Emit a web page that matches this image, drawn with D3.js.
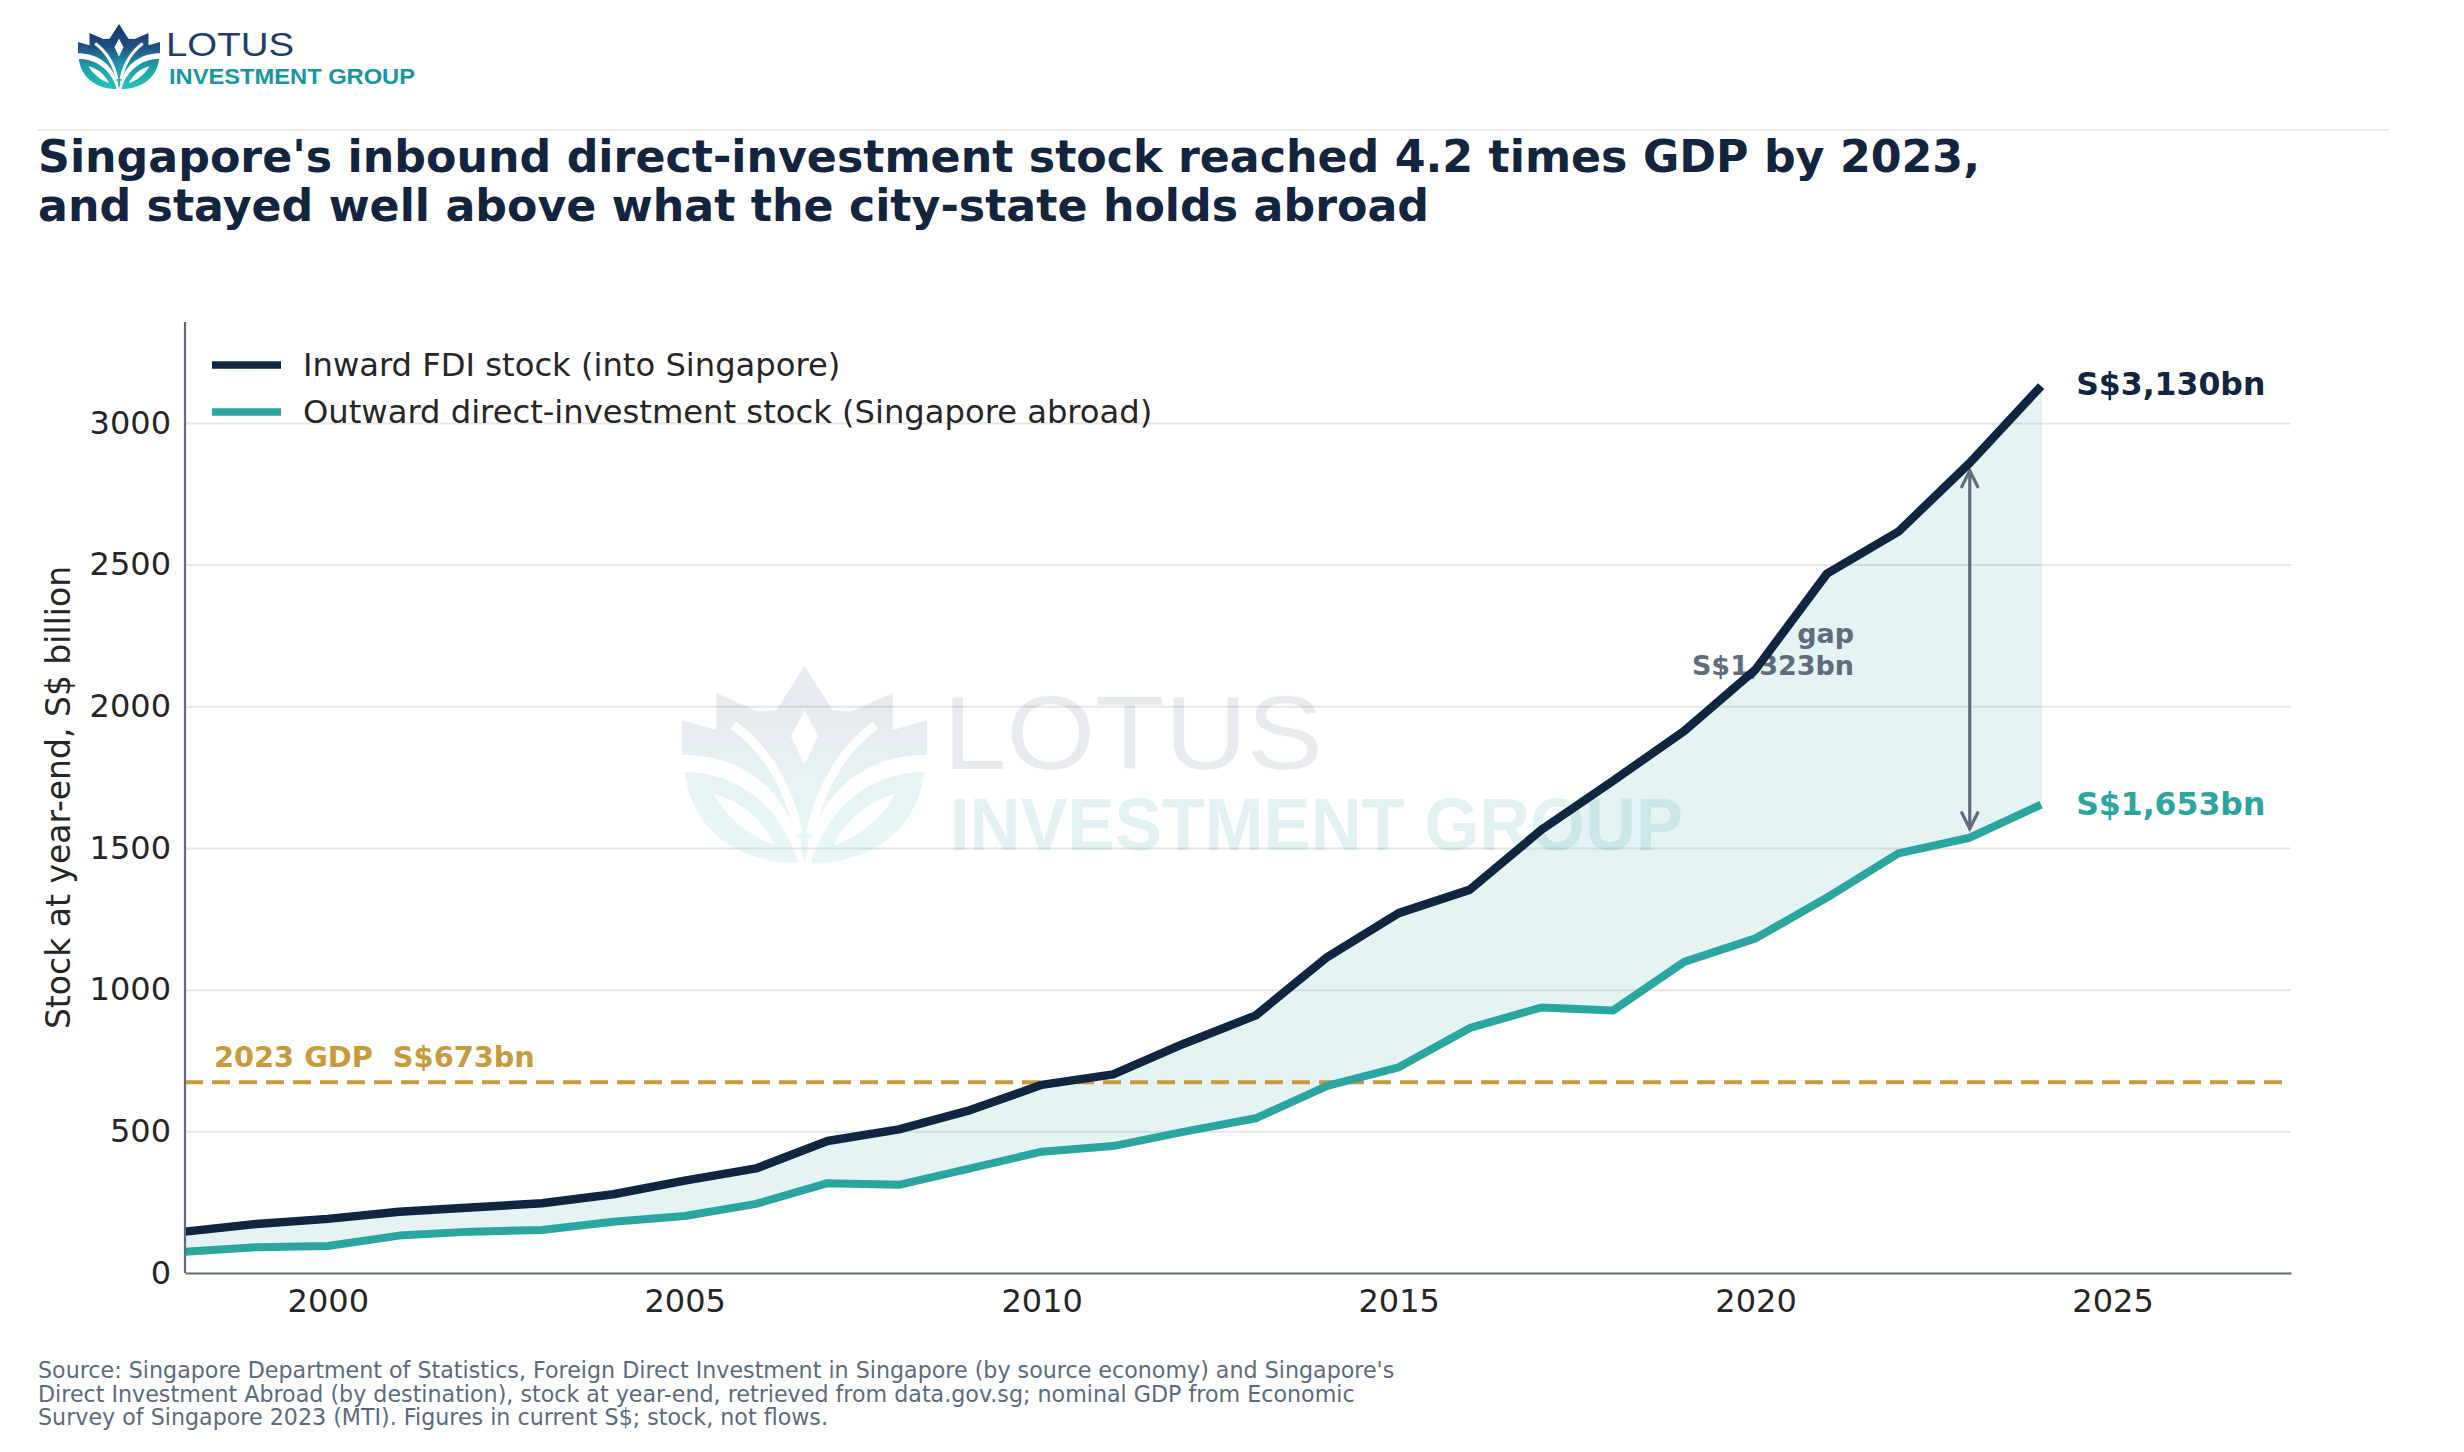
<!DOCTYPE html>
<html><head><meta charset="utf-8">
<script src="https://cdn.jsdelivr.net/npm/d3@7"></script>
<style>
html,body{margin:0;padding:0;background:#fff;}
svg{display:block;font-family:"DejaVu Sans",sans-serif;}
</style></head><body>
<svg id="chart" width="2464" height="1452"></svg>
<script>
// ---------------- data ----------------
const years   = [1998,1999,2000,2001,2002,2003,2004,2005,2006,2007,2008,2009,2010,2011,2012,2013,2014,2015,2016,2017,2018,2019,2020,2021,2022,2023,2024];
const inward  = [146,173,191,216,231,246,278,326,369,466,507,575,664,701,810,909,1115,1270,1353,1564,1736,1913,2130,2468,2616,2859,3130];
const outward = [75,91,95,132,146,152,181,201,244,317,311,369,428,448,499,546,660,726,865,937,926,1098,1181,1325,1481,1536,1653];
const gdp2023 = 673;
const gapYear = 2023;
const yTicks = [0,500,1000,1500,2000,2500,3000];
const xTicks = [2000,2005,2010,2015,2020,2025];
const seriesNames = ["Inward FDI stock (into Singapore)","Outward direct-investment stock (Singapore abroad)"];
const titleLines = ["Singapore's inbound direct-investment stock reached 4.2 times GDP by 2023,",
                    "and stayed well above what the city-state holds abroad"];
const sourceLines = ["Source: Singapore Department of Statistics, Foreign Direct Investment in Singapore (by source economy) and Singapore's",
                     "Direct Investment Abroad (by destination), stock at year-end, retrieved from data.gov.sg; nominal GDP from Economic",
                     "Survey of Singapore 2023 (MTI). Figures in current S$; stock, not flows."];
const yLabel = "Stock at year-end, S$ billion";

// ---------------- setup ----------------
const C = {navy:"#0f2540", teal:"#2ba59f", gold:"#c99a3b", slate:"#5e6c7c", grid:"#e6e6e6", text:"#262626"};
const svg = d3.select("#chart");
const M = {left:185, right:2291, top:322, bottom:1273};
const x = d3.scaleLinear().domain([1998, 2027.5]).range([M.left, M.right]);
const y = d3.scaleLinear().domain([0, 3356]).range([M.bottom, M.top]);
const rows = years.map((yr,i)=>({year:yr, inw:inward[i], out:outward[i]}));
const fmt = d3.format(",");

const defs = svg.append("defs");
const grad = defs.append("linearGradient").attr("id","lotusGrad").attr("x1",0).attr("y1",0).attr("x2",0).attr("y2",1);
[[0,"#1b3466"],[0.35,"#1f4f82"],[0.62,"#1c98a6"],[1,"#22c3bc"]].forEach(s=>grad.append("stop").attr("offset",s[0]).attr("stop-color",s[1]));

// lotus mask in 100x80 units
const mask = defs.append("mask").attr("id","lotusMask").attr("maskUnits","userSpaceOnUse")
  .attr("x",-5).attr("y",-5).attr("width",110).attr("height",90);
mask.append("path").attr("fill","#fff")
  .attr("d","M0,22 L14,26 L14,11 L31,18.5 L38.5,18 L50,0 L61.5,18 L69,18.5 L86,11 L86,26 L100,22 L100,36 C80,36 60,46 53,70 L50,80 L47,70 C40,46 20,36 0,36 Z");
mask.append("path").attr("fill","#fff").attr("d","M1,43 C22,43 40,56 47.5,80 C22,80 4,66 1,43 Z");
mask.append("path").attr("fill","#fff").attr("d","M99,43 C78,43 60,56 52.5,80 C78,80 96,66 99,43 Z");
mask.append("path").attr("fill","none").attr("stroke","#000").attr("stroke-width",3.6).attr("d","M21,24 C32,32 43,46 47.6,68");
mask.append("path").attr("fill","none").attr("stroke","#000").attr("stroke-width",3.6).attr("d","M79,24 C68,32 57,46 52.4,68");
mask.append("path").attr("fill","#000").attr("d","M50,18 L55.5,28.5 L50,40 L44.5,28.5 Z");
mask.append("path").attr("fill","#000").attr("d","M13,52 C24,55 33,62 38,73 C28,69 18,62 13,52 Z");
mask.append("path").attr("fill","#000").attr("d","M87,52 C76,55 67,62 62,73 C72,69 82,62 87,52 Z");
mask.append("path").attr("fill","none").attr("stroke","#000").attr("stroke-width",2.2).attr("d","M47.3,70 L48.2,81 M52.7,70 L51.8,81");

function lotus(parent, x0, y0, w, h, opacity){
  const g = parent.append("g").attr("transform",`translate(${x0},${y0}) scale(${w/100},${h/80})`).attr("opacity",opacity);
  g.append("rect").attr("x",0).attr("y",0).attr("width",100).attr("height",80)
    .attr("fill","url(#lotusGrad)").attr("mask","url(#lotusMask)");
  return g;
}

// ---------------- header ----------------
lotus(svg, 78, 24, 82, 65, 1);
svg.append("text").attr("x",166).attr("y",56).attr("font-family","Liberation Sans, Arial, sans-serif")
  .attr("font-size",34).attr("fill","#1f3e6e").attr("textLength",128).attr("lengthAdjust","spacingAndGlyphs").text("LOTUS");
svg.append("text").attr("x",169).attr("y",84).attr("font-family","Liberation Sans, Arial, sans-serif")
  .attr("font-weight","bold").attr("font-size",22.5).attr("fill","#1596a0").attr("textLength",246).attr("lengthAdjust","spacingAndGlyphs").text("INVESTMENT GROUP");
svg.append("line").attr("x1",38).attr("x2",2389).attr("y1",130).attr("y2",130).attr("stroke","#e2e2e2").attr("stroke-width",1.5);

svg.append("g").selectAll("text").data(titleLines).join("text")
  .attr("x",38).attr("y",(d,i)=>172+i*49).attr("font-size",44.3).attr("font-weight","bold").attr("fill","#13243f").text(d=>d);

// ---------------- grid ----------------
svg.append("g").attr("transform",`translate(${M.left},0)`)
  .call(d3.axisLeft(y).tickValues(yTicks.filter(v=>v>0)).tickSize(-(M.right-M.left)).tickFormat(""))
  .call(g=>g.select(".domain").remove())
  .call(g=>g.selectAll("line").attr("stroke",C.grid).attr("stroke-width",2));

// ---------------- fill between ----------------
const area = d3.area().x(d=>x(d.year)).y0(d=>y(d.out)).y1(d=>y(d.inw));
svg.append("path").datum(rows).attr("d",area).attr("fill",C.teal).attr("fill-opacity",0.13)
  .attr("stroke",C.teal).attr("stroke-opacity",0.08).attr("stroke-width",2);

// ---------------- watermark ----------------
const wm = svg.append("g");
lotus(wm, 682, 666, 245, 197, 0.1);
wm.append("text").attr("x",943).attr("y",769).attr("font-family","Liberation Sans, Arial, sans-serif")
  .attr("font-size",103).attr("fill","#1f3e6e").attr("opacity",0.1).attr("textLength",380).attr("lengthAdjust","spacingAndGlyphs").text("LOTUS");
wm.append("text").attr("x",950).attr("y",850).attr("font-family","Liberation Sans, Arial, sans-serif")
  .attr("font-weight","bold").attr("font-size",75).attr("fill","#1a9aa0").attr("opacity",0.12).attr("textLength",733).attr("lengthAdjust","spacingAndGlyphs").text("INVESTMENT GROUP");

// ---------------- GDP line ----------------
svg.append("line").attr("x1",M.left).attr("x2",M.right).attr("y1",y(gdp2023)).attr("y2",y(gdp2023))
  .attr("stroke",C.gold).attr("stroke-width",4).attr("stroke-dasharray","18,9");
svg.append("text").attr("x",214).attr("y",y(gdp2023)-15).attr("font-size",28.8).attr("font-weight","bold")
  .attr("fill",C.gold).attr("xml:space","preserve").text("2023 GDP  S$" + gdp2023 + "bn");

// ---------------- gap annotation ----------------
const gi = years.indexOf(gapYear);
const gap = inward[gi]-outward[gi];
const gapMidY = y((inward[gi]+outward[gi])/2);
const gx = x(gapYear-1.62);
const gapText = svg.append("text").attr("text-anchor","end").attr("font-size",27)
  .attr("font-weight","bold").attr("fill",C.slate);
gapText.append("tspan").attr("x",gx).attr("y",gapMidY-17).attr("dy","0.35em").text("gap");
gapText.append("tspan").attr("x",gx).attr("y",gapMidY+15).attr("dy","0.35em").text(`S$${fmt(gap)}bn`);

const ax = x(gapYear), aTop = y(inward[gi])+8, aBot = y(outward[gi])-9;
const arrow = svg.append("g").attr("stroke",C.slate).attr("stroke-width",3.2).attr("fill","none").attr("stroke-linecap","round");
arrow.append("line").attr("x1",ax).attr("x2",ax).attr("y1",aTop).attr("y2",aBot);
arrow.append("path").attr("d",`M${ax-8},${aTop+16} L${ax},${aTop} L${ax+8},${aTop+16}`);
arrow.append("path").attr("d",`M${ax-8},${aBot-16} L${ax},${aBot} L${ax+8},${aBot-16}`);

// ---------------- lines ----------------
const lineIn = d3.line().x(d=>x(d.year)).y(d=>y(d.inw));
const lineOut = d3.line().x(d=>x(d.year)).y(d=>y(d.out));
svg.append("path").datum(rows).attr("d",lineOut).attr("fill","none").attr("stroke",C.teal).attr("stroke-width",8).attr("stroke-linejoin","round");
svg.append("path").datum(rows).attr("d",lineIn).attr("fill","none").attr("stroke",C.navy).attr("stroke-width",8.5).attr("stroke-linejoin","round");

// end labels
const last = rows[rows.length-1];
svg.append("text").attr("x",x(last.year)+35).attr("y",y(last.inw)-2).attr("dy","0.35em").attr("font-size",31.5)
  .attr("font-weight","bold").attr("fill",C.navy).text(`S$${fmt(last.inw)}bn`);
svg.append("text").attr("x",x(last.year)+35).attr("y",y(last.out)-1).attr("dy","0.35em").attr("font-size",31.5)
  .attr("font-weight","bold").attr("fill",C.teal).text(`S$${fmt(last.out)}bn`);

// ---------------- axes ----------------
const yAxis = svg.append("g").attr("transform",`translate(${M.left},0)`)
  .call(d3.axisLeft(y).tickValues(yTicks).tickSize(0).tickSizeOuter(0).tickPadding(14).tickFormat(d3.format("d")));
const xAxis = svg.append("g").attr("transform",`translate(0,${M.bottom})`)
  .call(d3.axisBottom(x).tickValues(xTicks).tickSize(0).tickSizeOuter(0).tickPadding(16).tickFormat(d3.format("d")));
[yAxis,xAxis].forEach(a=>{
  a.select(".domain").attr("stroke",C.slate).attr("stroke-width",2.2);
  a.selectAll("text").attr("font-size",32).attr("fill",C.text).attr("font-family","DejaVu Sans, sans-serif");
});
yAxis.select(".domain").attr("d",`M0,${M.top}V${M.bottom}`);

svg.append("text").attr("transform",`translate(58,${(M.top+M.bottom)/2}) rotate(-90)`).attr("text-anchor","middle")
  .attr("dy","0.35em").attr("font-size",33).attr("fill",C.text).text(yLabel);

// ---------------- legend ----------------
const legColors = [C.navy, C.teal];
const leg = svg.append("g").selectAll("g").data(seriesNames).join("g")
  .attr("transform",(d,i)=>`translate(212,${365+i*47})`);
leg.append("line").attr("x1",0).attr("x2",69).attr("stroke",(d,i)=>legColors[i]).attr("stroke-width",7.5);
leg.append("text").attr("x",91).attr("dy","0.35em").attr("font-size",32.2).attr("fill",C.text).text(d=>d);

// ---------------- source ----------------
svg.append("g").selectAll("text").data(sourceLines).join("text")
  .attr("x",38).attr("y",(d,i)=>1378+i*23.5).attr("font-size",22.2).attr("fill","#5c6b7c").text(d=>d);
</script>
</body></html>
